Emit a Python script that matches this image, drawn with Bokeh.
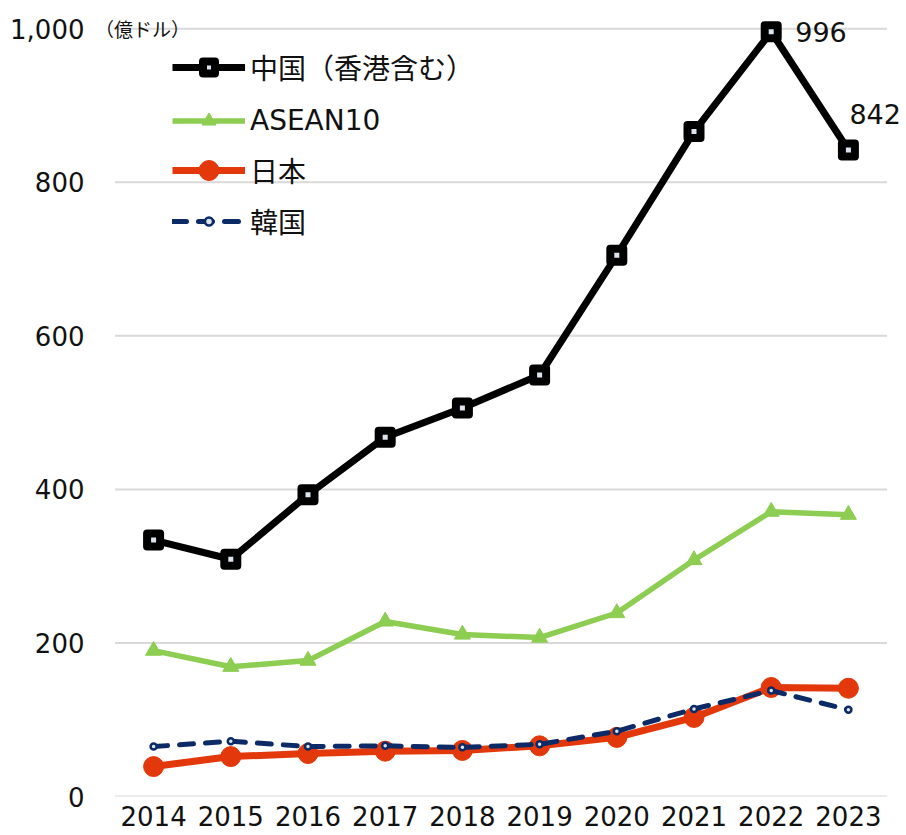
from bokeh.plotting import figure
from bokeh.models import (ColumnDataSource, Legend, LegendItem, Label, LabelSet,
                          FactorRange, Range1d, FixedTicker, NumeralTickFormatter)
from bokeh.core.properties import value
from bokeh.embed import file_html
from bokeh.resources import INLINE

# ---- data ----
years = ["2014", "2015", "2016", "2017", "2018", "2019", "2020", "2021", "2022", "2023"]
china = [334, 309, 393, 468, 506, 549, 705, 866, 996, 842]
asean = [190, 169, 177, 228, 211, 207, 239, 308, 371, 367]
japan = [39, 52, 56, 59, 60, 66, 77, 103, 142, 141]
korea = [65, 72, 65, 66, 64, 68, 85, 114, 138, 113]
series_names = ["中国（香港含む）", "ASEAN10", "日本", "韓国"]
y_ticks = [0, 200, 400, 600, 800, 1000]
unit_label = "（億ドル）"

BLACK = "#000000"
GREEN = "#8dcd52"
RED = "#e2380b"
NAVY = "#0b2a66"
LIGHT = "#dde4ef"
TEXT = "#111111"
GRID = "#d9d9d9"
LATIN = "DejaVu Sans"
CJK = "'DejaVu Sans', 'Noto Sans CJK JP'"

src = ColumnDataSource(dict(year=years, china=china, asean=asean, japan=japan, korea=korea))

p = figure(x_range=FactorRange(*years, range_padding=0.0505, range_padding_units="percent"),
           y_range=Range1d(0, 1012),
           width=906, height=835, output_backend="svg", toolbar_location=None,
           min_border_left=95, min_border_right=0, min_border_top=19, min_border_bottom=39)

p.outline_line_color = None
p.xgrid.grid_line_color = None
p.ygrid.grid_line_color = None
p.yaxis.ticker = FixedTicker(ticks=y_ticks)
p.yaxis.formatter = NumeralTickFormatter(format="0,0")
for ax in (p.xaxis[0], p.yaxis[0]):
    ax.axis_line_color = None
    ax.major_tick_line_color = None
    ax.minor_tick_line_color = None
    ax.major_tick_out = 0
    ax.major_tick_in = 0
    ax.major_label_text_font = LATIN
    ax.major_label_text_color = TEXT
p.yaxis.major_label_text_font_size = "26px"
p.yaxis.major_label_standoff = 11
p.xaxis.major_label_text_font_size = "26px"
p.xaxis.major_label_standoff = 9

# ---- horizontal gridlines spanning exactly the category band ----
grid_src = ColumnDataSource(dict(y=y_ticks, x0=[0] * len(y_ticks),
                                 x1=[len(years)] * len(y_ticks)))
p.segment(x0="x0", x1="x1", y0="y", y1="y", source=grid_src,
          line_color=GRID, line_width=2, level="underlay")

# ---- series ----
ra_l = p.line("year", "asean", source=src, line_color=GREEN, line_width=5.5, line_join="round")
ra_m = p.scatter("year", "asean", source=src, marker="triangle", size=16,
                 fill_color=GREEN, line_color=GREEN)
rj_l = p.line("year", "japan", source=src, line_color=RED, line_width=7, line_join="round")
rj_m = p.scatter("year", "japan", source=src, marker="circle", size=20,
                 fill_color=RED, line_color=RED)
rk_l = p.line("year", "korea", source=src, line_color=NAVY, line_width=5,
              line_dash="14 12", line_cap="round", line_join="round")
rk_m = p.scatter("year", "korea", source=src, marker="circle", size=6,
                 fill_color=LIGHT, line_color=NAVY, line_width=2.5)
rc_l = p.line("year", "china", source=src, line_color=BLACK, line_width=7, line_join="round")
rc_m = p.scatter("year", "china", source=src, marker="square", size=13,
                 fill_color=LIGHT, line_color=BLACK, line_width=8, line_join="round")

# one legend per series so each marker can have its own size
legend_specs = [
    (series_names[0], [rc_l, rc_m], 30, 709),
    (series_names[1], [ra_l, ra_m], 35, 658),
    (series_names[2], [rj_l, rj_m], 50, 601),
    (series_names[3], [rk_l, rk_m], 20, 555),
]
for name, rends, gh, vy in legend_specs:
    lg = Legend(items=[LegendItem(label=name, renderers=rends)],
                location=(77, vy), margin=0, padding=0, spacing=0,
                glyph_width=73, glyph_height=gh, label_standoff=5,
                label_text_font=CJK, label_text_font_size="28px", label_text_color=TEXT,
                label_text_baseline="middle",
                border_line_color=None, background_fill_alpha=0)
    p.add_layout(lg)

# ---- value labels ----
src_a = ColumnDataSource(dict(x=[years[8]], y=[china[8]], t=[str(china[8])]))
src_b = ColumnDataSource(dict(x=[years[9]], y=[china[9]], t=[str(china[9])]))
p.add_layout(LabelSet(x="x", y="y", text="t", source=src_a, x_offset=24, y_offset=0,
                      text_align="left", text_baseline="middle", text_font=value(LATIN),
                      text_font_size=value("27px"), text_color=TEXT))
p.add_layout(LabelSet(x="x", y="y", text="t", source=src_b, x_offset=1, y_offset=36,
                      text_align="left", text_baseline="middle", text_font=value(LATIN),
                      text_font_size=value("27px"), text_color=TEXT))

p.add_layout(Label(x=0, y=1000, x_offset=-20, text=unit_label, text_align="left",
                   text_baseline="middle", text_font="Noto Sans CJK JP",
                   text_font_size="19px", text_color=TEXT))

open("out.html", "w").write(file_html(p, INLINE))
